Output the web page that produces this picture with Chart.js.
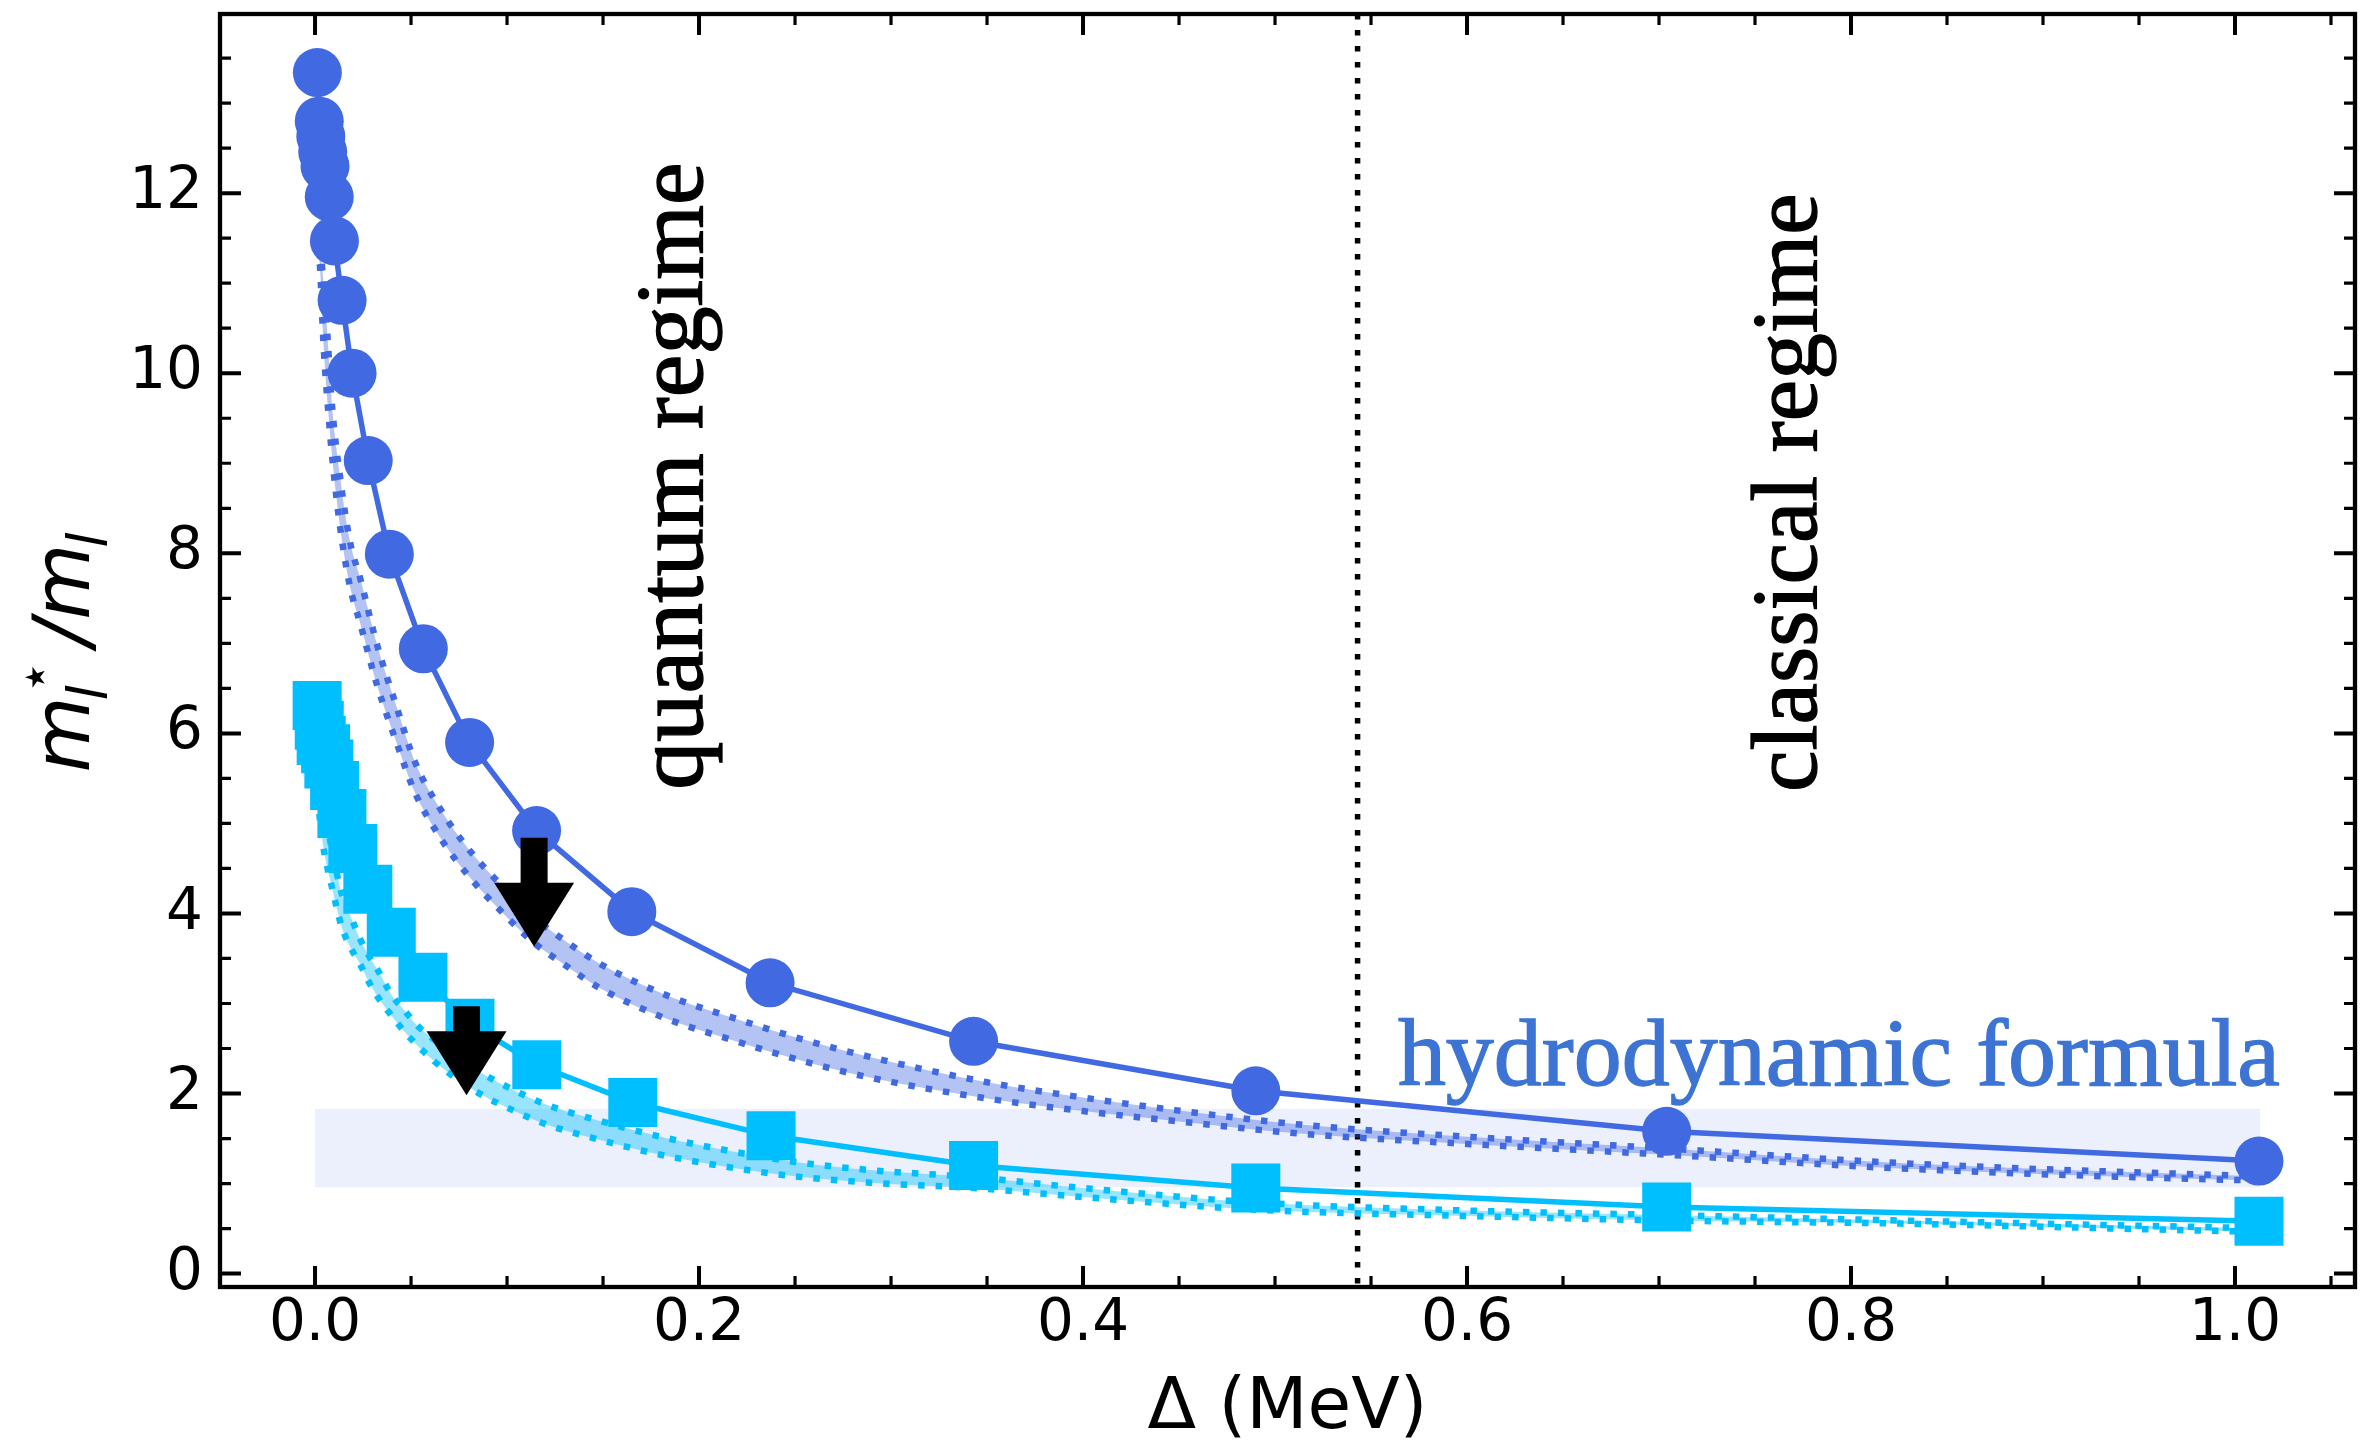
<!DOCTYPE html>
<html><head><meta charset="utf-8">
<style>html,body{margin:0;padding:0;background:#fff;overflow:hidden}canvas{display:block}</style>
<script src="https://cdn.jsdelivr.net/npm/chart.js@4.4.1/dist/chart.umd.min.js"></script>
</head><body>
<canvas id="c" width="2366" height="1441"></canvas>
<script>
// ---------------- DATA ----------------
const circleX = [0.0012, 0.0022, 0.0030, 0.0040, 0.0052, 0.0074, 0.0101, 0.0141, 0.0193, 0.0277, 0.0387, 0.0564, 0.0805, 0.1154, 0.165, 0.237, 0.343, 0.490, 0.704, 1.0125];
const circleY = [13.34, 12.80, 12.63, 12.46, 12.30, 11.96, 11.47, 10.81, 10.00, 9.03, 7.99, 6.94, 5.90, 4.92, 4.02, 3.23, 2.58, 2.03, 1.58, 1.25];

const squareX = [0.0011, 0.0022, 0.0032, 0.0055, 0.0072, 0.0102, 0.014, 0.0197, 0.0275, 0.0397, 0.0562, 0.0807, 0.1155, 0.1655, 0.2375, 0.343, 0.490, 0.704, 1.0125];
const squareY = [6.31, 6.09, 5.92, 5.83, 5.66, 5.42, 5.11, 4.72, 4.27, 3.79, 3.29, 2.78, 2.32, 1.90, 1.53, 1.20, 0.95, 0.74, 0.58];

const blueBandX = [0.0012, 0.0026, 0.004, 0.0052, 0.0068, 0.009, 0.013, 0.018, 0.0238, 0.0321, 0.0424, 0.0521, 0.0651, 0.079, 0.098, 0.114, 0.13, 0.1484, 0.1832, 0.2179, 0.2526, 0.2873, 0.35, 0.4, 0.45, 0.513, 0.6, 0.704, 0.8255, 1.0, 1.013];
const blueBandLower = [11.40, 11.18, 10.50, 10.05, 9.60, 9.05, 8.30, 7.65, 7.20, 6.55, 5.90, 5.34, 4.845, 4.44, 4.00, 3.675, 3.43, 3.17, 2.83, 2.59, 2.37, 2.185, 1.945, 1.805, 1.69, 1.555, 1.44, 1.32, 1.1675, 1.04, 1.035];
const blueBandUpper = [11.60, 11.45, 11.10, 10.85, 10.30, 9.60, 8.85, 8.15, 7.70, 7.00, 6.30, 5.68, 5.165, 4.74, 4.29, 3.955, 3.70, 3.44, 3.09, 2.84, 2.61, 2.415, 2.125, 1.955, 1.81, 1.655, 1.52, 1.39, 1.2275, 1.09, 1.083];

const cyanBandX = [0.0012, 0.0025, 0.0043, 0.0065, 0.0087, 0.0113, 0.0139, 0.0185, 0.0234, 0.028, 0.033, 0.040, 0.046, 0.053, 0.062, 0.075, 0.0877, 0.1029, 0.12, 0.1484, 0.18, 0.219, 0.25, 0.289, 0.343, 0.4, 0.49, 0.6, 0.704, 0.8255, 1.0, 1.013];
const cyanBandLower = [5.30, 5.05, 4.74, 4.50, 4.30, 4.06, 3.85, 3.62, 3.44, 3.24, 3.06, 2.86, 2.70, 2.54, 2.36, 2.145, 1.975, 1.815, 1.66, 1.485, 1.32, 1.17, 1.08, 1.01, 0.95, 0.85, 0.71, 0.64, 0.59, 0.555, 0.47, 0.465];
const cyanBandUpper = [5.60, 5.40, 5.15, 4.95, 4.72, 4.45, 4.22, 3.97, 3.72, 3.53, 3.36, 3.09, 2.94, 2.76, 2.60, 2.385, 2.215, 2.045, 1.88, 1.695, 1.52, 1.35, 1.24, 1.15, 1.07, 0.95, 0.79, 0.70, 0.65, 0.59, 0.51, 0.505];

const hydroBandX = [0.0, 1.013];
const hydroBandY = [0.96, 1.83];
const regimeBoundaryX = 0.543;

const arrowX = [0.1141, 0.0789];
const arrowFromY = [4.84, 2.97];
const arrowToY = [3.63, 1.98];

const xTicks = [0.0, 0.2, 0.4, 0.6, 0.8, 1.0];
const xTickLabels = ['0.0', '0.2', '0.4', '0.6', '0.8', '1.0'];
const yTicks = [0, 2, 4, 6, 8, 10, 12];
const yTickLabels = ['0', '2', '4', '6', '8', '10', '12'];
const xMinorStep = 0.05;
const yMinorStep = 0.5;
const xRange = [-0.0495, 1.0625];
const yRange = [-0.149, 13.99];

const xTitle = 'Δ (MeV)';
const regimeLabels = [
  {text: 'quantum regime', x: 0.2014, y0: 5.374, y1: 12.343},
  {text: 'classical regime', x: 0.7818, y0: 5.35, y1: 12.0}
];
const hydroLabel = {text: 'hydrodynamic formula', x0: 0.564, x1: 1.0234, y: 2.092};

// ---------------- STYLE ----------------
const BLUE = '#4169E1', CYAN = '#00BFFF';
const BLUE_FILL = 'rgba(65,105,225,0.40)', CYAN_FILL = 'rgba(0,191,255,0.40)';
const HYDRO_FILL = 'rgba(65,105,225,0.10)';
const HYDRO_TEXT = 'rgb(61,116,212)';
Chart.defaults.font.family = '"DejaVu Sans"';

const pts = (xs, ys) => xs.map((x, i) => ({x: x, y: ys[i]}));
const dotted = {borderDash: [6.5, 11], borderWidth: 6.5, borderCapStyle: 'butt', pointRadius: 0, cubicInterpolationMode: 'monotone'};

function serifText(ctx, text, x, y, size, color) {
  ctx.font = size.toFixed(2) + 'px "Liberation Serif"';
  ctx.fillStyle = color;
  ctx.strokeStyle = color;
  ctx.lineWidth = 1.3;
  ctx.fillText(text, x, y);
  ctx.strokeText(text, x, y);
}

const annotPlugin = {
  id: 'annot',
  beforeDatasetsDraw(chart) {
    const {ctx, scales: {x, y}} = chart;
    const x0 = x.getPixelForValue(hydroBandX[0]), x1 = x.getPixelForValue(hydroBandX[1]);
    const y0 = y.getPixelForValue(hydroBandY[0]), y1 = y.getPixelForValue(hydroBandY[1]);
    ctx.save();
    ctx.fillStyle = HYDRO_FILL;
    ctx.fillRect(x0, y1, x1 - x0, y0 - y1);
    ctx.restore();
  },
  afterDatasetsDraw(chart) {
    const {ctx, chartArea: {left, right, top, bottom}, scales: {x, y}} = chart;
    ctx.save();
    ctx.strokeStyle = '#000';
    const isMajor = (v, arr) => arr.some(t => Math.abs(t - v) < 1e-7);
    const drawXT = (v, len, lw) => {
      const p = x.getPixelForValue(v);
      ctx.lineWidth = lw;
      ctx.beginPath(); ctx.moveTo(p, bottom); ctx.lineTo(p, bottom - len);
      ctx.moveTo(p, top); ctx.lineTo(p, top + len); ctx.stroke();
    };
    const drawYT = (v, len, lw) => {
      const p = y.getPixelForValue(v);
      ctx.lineWidth = lw;
      ctx.beginPath(); ctx.moveTo(left, p); ctx.lineTo(left + len, p);
      ctx.moveTo(right, p); ctx.lineTo(right - len, p); ctx.stroke();
    };
    for (let k = Math.ceil(xRange[0] / xMinorStep); k * xMinorStep <= xRange[1]; k++) {
      const v = +(k * xMinorStep).toFixed(6);
      if (!isMajor(v, xTicks)) drawXT(v, 11, 3.2);
    }
    xTicks.forEach(v => drawXT(v, 21, 4));
    for (let k = Math.ceil(yRange[0] / yMinorStep); k * yMinorStep <= yRange[1]; k++) {
      const v = +(k * yMinorStep).toFixed(6);
      if (!isMajor(v, yTicks)) drawYT(v, 11, 3.2);
    }
    yTicks.forEach(v => drawYT(v, 21, 4));
    ctx.lineWidth = 4.3;
    ctx.strokeRect(left, top, right - left, bottom - top);
    ctx.restore();
  },
  afterDraw(chart) {
    const {ctx, chartArea: {left, right, top, bottom}, scales: {x, y}} = chart;
    ctx.save();
    // arrows
    ctx.fillStyle = '#000';
    arrowX.forEach((ax, i) => {
      const px = x.getPixelForValue(ax);
      const p0 = y.getPixelForValue(arrowFromY[i]), p1 = y.getPixelForValue(arrowToY[i]);
      const sw = 13.5, hw = 40, hl = 64;
      ctx.beginPath();
      ctx.moveTo(px - sw, p0); ctx.lineTo(px + sw, p0); ctx.lineTo(px + sw, p1 - hl);
      ctx.lineTo(px + hw, p1 - hl); ctx.lineTo(px, p1); ctx.lineTo(px - hw, p1 - hl);
      ctx.lineTo(px - sw, p1 - hl); ctx.closePath(); ctx.fill();
    });
    ctx.textBaseline = 'alphabetic';
    ctx.textAlign = 'left';
    // regime labels (rotated serif text)
    regimeLabels.forEach(r => {
      const bx = x.getPixelForValue(r.x);
      const py0 = y.getPixelForValue(r.y0), py1 = y.getPixelForValue(r.y1);
      ctx.font = '96px "Liberation Serif"';
      const w = ctx.measureText(r.text).width;
      const fs = 96 * (py0 - py1) / w;
      ctx.save();
      ctx.translate(bx, py0);
      ctx.rotate(-Math.PI / 2);
      serifText(ctx, r.text, 0, 0, fs, '#000');
      ctx.restore();
    });
    // hydrodynamic formula label
    {
      const hx0 = x.getPixelForValue(hydroLabel.x0), hx1 = x.getPixelForValue(hydroLabel.x1);
      const hy = y.getPixelForValue(hydroLabel.y);
      ctx.font = '96px "Liberation Serif"';
      const w = ctx.measureText(hydroLabel.text).width;
      const fs = 96 * (hx1 - hx0) / w;
      serifText(ctx, hydroLabel.text, hx0, hy, fs, HYDRO_TEXT);
    }
    // x title
    ctx.fillStyle = '#000';
    ctx.font = '71px "DejaVu Sans"';
    ctx.textAlign = 'center';
    ctx.fillText(xTitle, (left + right) / 2, 1428);
    // y title  m_l^* / m_l
    {
      const big = 78, small = 55;
      const fBig = 'italic ' + big + 'px "DejaVu Sans"';
      const fSmall = 'italic ' + small + 'px "DejaVu Sans"';
      const fStar = small + 'px "DejaVu Sans"';
      ctx.font = fBig; const wM = ctx.measureText('m').width; const wS = ctx.measureText('/').width;
      ctx.font = fSmall; const wl = ctx.measureText('l').width;
      ctx.font = fStar; const wStar = ctx.measureText('⋆').width;
      const scriptW = Math.max(wl, wStar);
      const gap = 16;
      const total = wM + scriptW + gap + wS + wM + wl;
      ctx.save();
      ctx.translate(89, (top + bottom) / 2);
      ctx.rotate(-Math.PI / 2);
      ctx.textAlign = 'left';
      let cx = -total / 2;
      ctx.font = fBig; ctx.fillText('m', cx, 0); cx += wM;
      ctx.font = fSmall; ctx.fillText('l', cx - 4, 18);
      ctx.font = fStar; ctx.fillText('⋆', cx + 2, -36);
      cx += scriptW + gap;
      ctx.font = fBig; ctx.fillText('/', cx, 0); cx += wS;
      ctx.fillText('m', cx, 0); cx += wM;
      ctx.font = fSmall; ctx.fillText('l', cx - 4, 18);
      ctx.restore();
    }
    ctx.restore();
  }
};

new Chart(document.getElementById('c'), {
  type: 'line',
  data: {
    datasets: [
      Object.assign({data: pts(cyanBandX, cyanBandUpper), borderColor: CYAN, fill: '+1', backgroundColor: CYAN_FILL, order: 5}, dotted),
      Object.assign({data: pts(cyanBandX, cyanBandLower), borderColor: CYAN, fill: false, order: 5}, dotted),
      Object.assign({data: pts(blueBandX, blueBandUpper), borderColor: BLUE, fill: '+1', backgroundColor: BLUE_FILL, order: 5}, dotted),
      Object.assign({data: pts(blueBandX, blueBandLower), borderColor: BLUE, fill: false, order: 5}, dotted),
      {data: [{x: regimeBoundaryX, y: yRange[1]}, {x: regimeBoundaryX, y: yRange[0]}], borderColor: '#000',
       borderDash: [5.5, 10.5], borderWidth: 5.5, borderCapStyle: 'butt', pointRadius: 0, fill: false, order: 6},
      {data: pts(squareX, squareY), borderColor: CYAN, borderWidth: 5.5, fill: false, tension: 0,
       pointStyle: 'rect', pointRadius: 34.65, pointBackgroundColor: CYAN, pointBorderWidth: 0, pointBorderColor: CYAN, order: 2},
      {data: pts(circleX, circleY), borderColor: BLUE, borderWidth: 5.5, fill: false, tension: 0,
       pointStyle: 'circle', pointRadius: 24.5, pointBackgroundColor: BLUE, pointBorderWidth: 0, pointBorderColor: BLUE, order: 1}
    ]
  },
  options: {
    responsive: false,
    animation: false,
    devicePixelRatio: 1,
    layout: {autoPadding: false, padding: {left: 0, right: 11, top: 14, bottom: 0}},
    plugins: {legend: {display: false}, tooltip: {enabled: false}},
    scales: {
      x: {
        type: 'linear', min: xRange[0], max: xRange[1],
        grid: {display: false, drawTicks: false}, border: {display: false},
        ticks: {font: {size: 58}, color: '#000', padding: 3, autoSkip: false, maxRotation: 0,
          callback: (v) => { const i = xTicks.findIndex(t => Math.abs(t - v) < 1e-9); return i >= 0 ? xTickLabels[i] : ''; }},
        afterBuildTicks: (s) => { s.ticks = xTicks.map(v => ({value: v})); },
        afterFit: (s) => { s.height = 154; s.paddingLeft = 0; s.paddingRight = 0; s.paddingTop = 0; s.paddingBottom = 0; }
      },
      y: {
        type: 'linear', min: yRange[0], max: yRange[1],
        grid: {display: false, drawTicks: false}, border: {display: false},
        ticks: {font: {size: 58}, color: '#000', padding: 17, autoSkip: false,
          callback: (v) => { const i = yTicks.findIndex(t => Math.abs(t - v) < 1e-9); return i >= 0 ? yTickLabels[i] : ''; }},
        afterBuildTicks: (s) => { s.ticks = yTicks.map(v => ({value: v})); },
        afterFit: (s) => { s.width = 220; s.paddingLeft = 0; s.paddingRight = 0; s.paddingTop = 0; s.paddingBottom = 0; }
      }
    }
  },
  plugins: [annotPlugin]
});
</script>
</body></html>
